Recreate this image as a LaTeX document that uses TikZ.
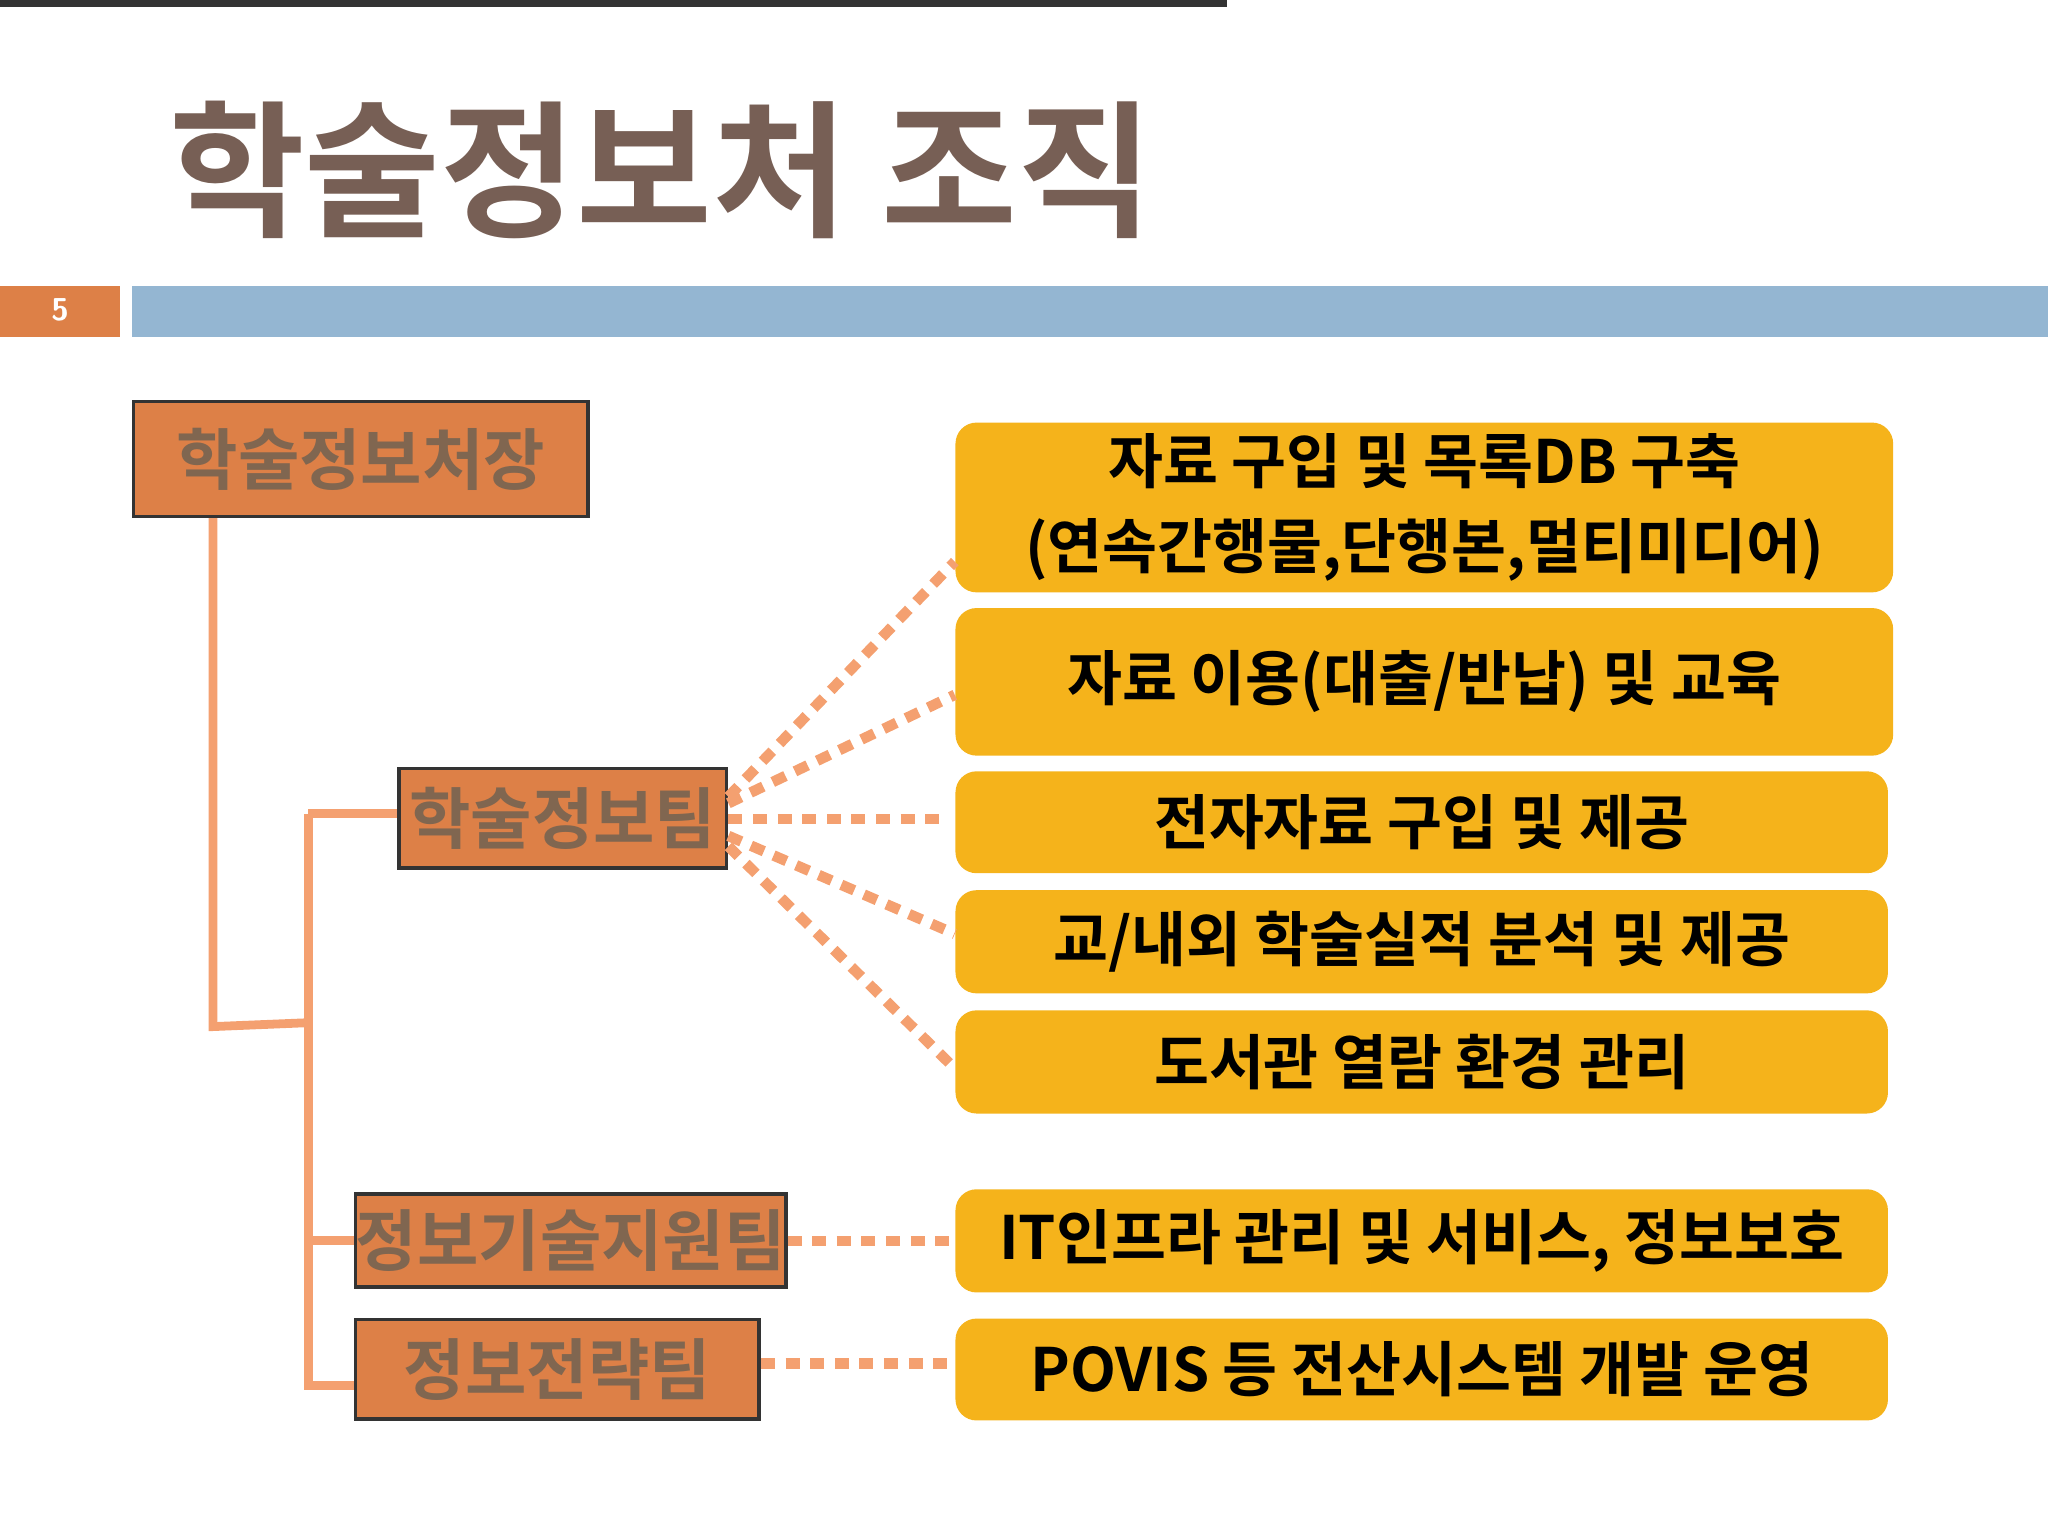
\documentclass[tikz,border=0pt]{standalone}
\usepackage{fontspec}
\setmainfont{Noto Sans CJK KR}
\newfontfamily\krb{Noto Sans CJK KR Bold}
\begin{document}
\begin{tikzpicture}[x=0.01306cm,y=-0.01306cm,
  orgbox/.style={draw=black!80,line width=1pt,fill=orgC,inner sep=0pt,anchor=north west,font=\krb\fontsize{19pt}{22pt}\selectfont,text=textC},
  ybox/.style={fill=yelC,rounded corners=6pt,inner sep=0pt,anchor=north west,align=center,font=\krb\fontsize{17pt}{24pt}\selectfont,text=black},
  solidl/.style={draw=lineC,line width=2.5pt},
  dotl/.style={draw=lineC,line width=3pt,dash pattern=on 4pt off 3pt}]
\definecolor{orgC}{HTML}{DD8047}
\definecolor{blueC}{HTML}{94B6D2}
\definecolor{yelC}{HTML}{F5B31B}
\definecolor{lineC}{HTML}{F4A070}
\definecolor{titleC}{HTML}{775F55}
\definecolor{textC}{HTML}{806650}
\useasboundingbox (0,0) rectangle (1568,1176);
\node[anchor=west,text=titleC,font=\krb\fontsize{42pt}{46pt}\selectfont] (title) at (120,130) {학술정보처 조직};
\fill[orgC] (0,219) rectangle (92,258);
\node[text=white,font=\sffamily\bfseries\small] (pg) at (46,237) {5};
\fill[blueC] (101,219) rectangle (1568,258);
\node[orgbox,minimum width=348\pgflinewidth,text width=0pt] at (0,0) {};
\node[orgbox,minimum width=4.545cm,minimum height=1.149cm] (a) at (101,306) {학술정보처장};
\node[orgbox,minimum width=3.278cm,minimum height=0.993cm] (b) at (304,587) {학술정보팀};
\node[orgbox,minimum width=4.035cm,minimum height=0.927cm] (c) at (271,913) {정보기술지원팀};
\node[orgbox,minimum width=4.035cm,minimum height=0.993cm] (d) at (271,1009) {정보전략팀};
\coordinate (j1) at (163,786);
\coordinate (j2) at (236,783);
\coordinate (j3) at (236,623);
\coordinate (j4) at (236,1061);
\draw[solidl] (a.south west) ++(62,0) -- (j1) -- (j2);
\draw[solidl] (j3) -- (j4) -- (d.west |- j4);
\draw[solidl] (j3) -- (b.west |- j3);
\draw[solidl] (236,950) -- (c.west |- 0,950);
\node[ybox,minimum width=9.377cm,minimum height=1.698cm] (y1) at (731,323) {자료 구입 및 목록DB 구축\\(연속간행물,단행본,멀티미디어)};
\node[ybox,minimum width=9.377cm,minimum height=1.476cm] (y2) at (731,465) {자료 이용(대출/반납) 및 교육};
\node[ybox,minimum width=9.325cm,minimum height=1.019cm] (y3) at (731,590) {전자자료 구입 및 제공};
\node[ybox,minimum width=9.325cm,minimum height=1.032cm] (y4) at (731,681) {교/내외 학술실적 분석 및 제공};
\node[ybox,minimum width=9.325cm,minimum height=1.032cm] (y5) at (731,773) {도서관 열람 환경 관리};
\node[ybox,minimum width=9.325cm,minimum height=1.032cm] (y6) at (731,910) {IT인프라 관리 및 서비스, 정보보호};
\node[ybox,minimum width=9.325cm,minimum height=1.019cm] (y7) at (731,1009) {POVIS 등 전산시스템 개발 운영};
\draw[dotl] (b.east |- 0,610) -- (y1.west |- 0,430);
\draw[dotl] (b.east |- 0,615) -- (y2.west |- 0,532);
\draw[dotl] (b.east |- 0,627) -- (720,627);
\draw[dotl] (b.east |- 0,640) -- (y4.west |- 0,715);
\draw[dotl] (b.east |- 0,648) -- (y5.west |- 0,818);
\draw[dotl] (c.east |- 0,950) -- (y6.west |- 0,950);
\draw[dotl] (d.east |- 0,1044) -- (y7.west |- 0,1044);
\end{tikzpicture}
\end{document}
